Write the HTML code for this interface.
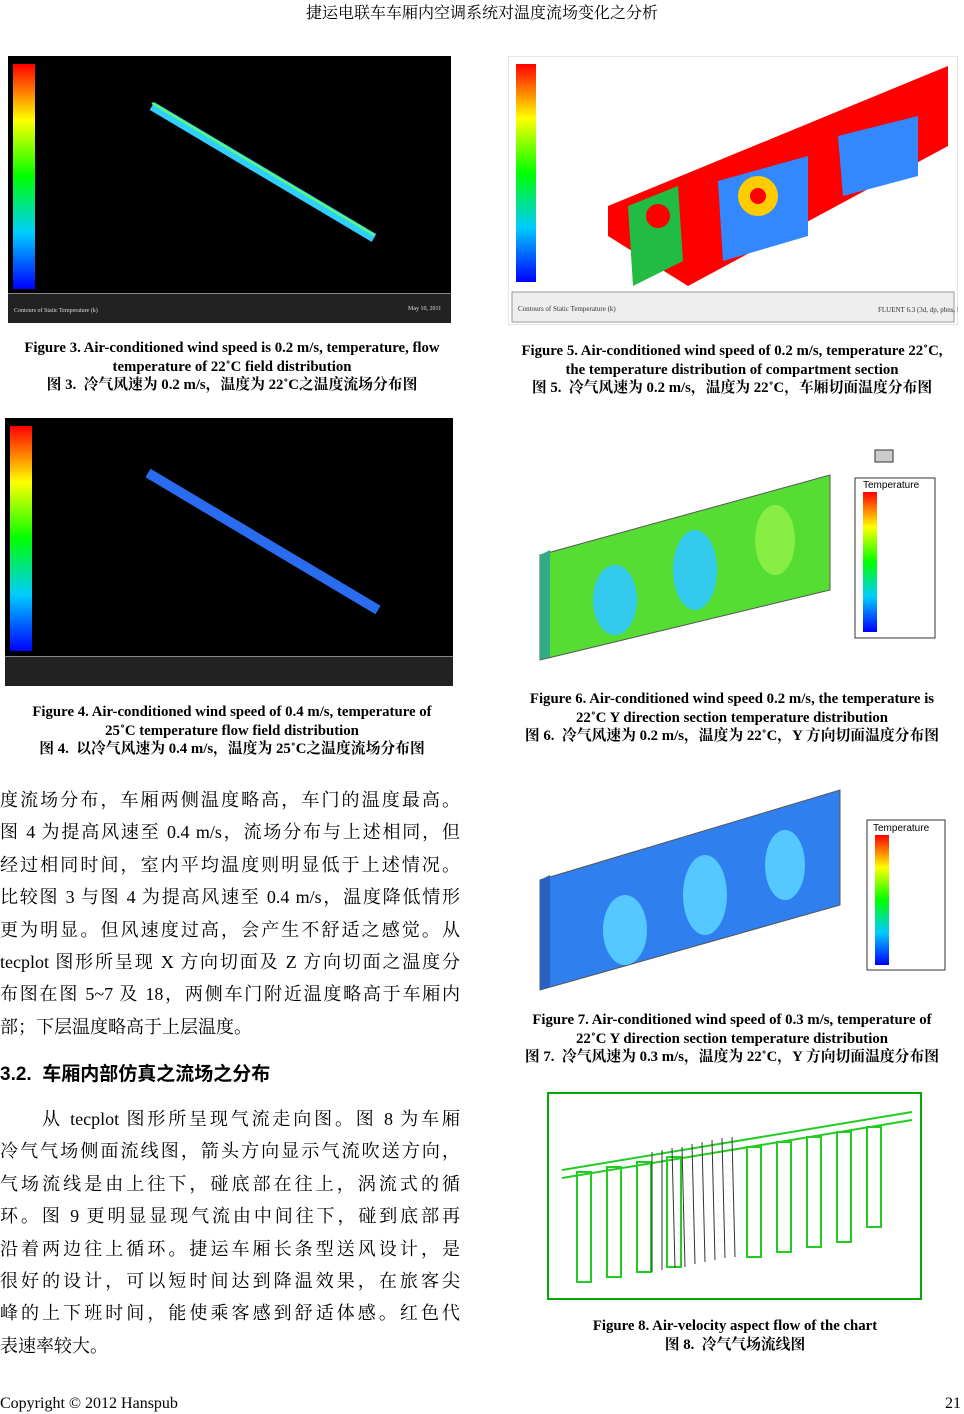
<!DOCTYPE html>
<html><head><meta charset="utf-8"><style>
body{margin:0;width:964px;height:1414px;background:#fff;position:relative;overflow:hidden;font-family:"Liberation Serif","Noto Serif CJK SC",serif;color:#000}
.a{position:absolute;white-space:nowrap}
.cap{position:absolute;text-align:center;font-weight:bold;font-size:14.8px;line-height:18.5px}
.body{position:absolute;left:0;width:460px;font-size:18px;line-height:32.4px}
.body div{text-align:justify;text-align-last:justify;height:32.4px;white-space:nowrap}
.body div.l{text-align-last:left}
</style></head><body>
<div class="a" style="left:0;width:964px;text-align:center;top:0;font-size:16px">捷运电联车车厢内空调系统对温度流场变化之分析</div>

<svg class="a" style="left:8px;top:56px" width="443" height="267">
<defs><linearGradient id="cb" x1="0" y1="1" x2="0" y2="0"><stop offset="0" stop-color="#0000ff"/><stop offset=".25" stop-color="#00ccff"/><stop offset=".5" stop-color="#00ff00"/><stop offset=".75" stop-color="#ffff00"/><stop offset="1" stop-color="#ff0000"/></linearGradient></defs>
<rect width="443" height="267" fill="#000"/>
<rect x="5" y="8" width="22" height="225" fill="url(#cb)"/>
<line x1="144" y1="50" x2="366" y2="182" stroke="#2fd0ff" stroke-width="9"/>
<line x1="144" y1="47" x2="366" y2="179" stroke="#60ff60" stroke-width="2"/>
<rect x="0" y="237" width="443" height="30" fill="#222"/><rect x="0" y="237" width="443" height="1" fill="#888"/>
<text x="6" y="256" fill="#ddd" font-size="6">Contours of Static Temperature (k)</text>
<text x="400" y="254" fill="#ddd" font-size="6">May 10, 2011</text>
</svg>
<div class="cap" style="left:0;width:464px;top:339px">Figure 3. Air-conditioned wind speed is 0.2 m/s, temperature, flow<br>temperature of 22˚C field distribution<br>图 3.&nbsp; 冷气风速为 0.2 m/s，温度为 22˚C之温度流场分布图</div>

<svg class="a" style="left:5px;top:418px" width="448" height="268">
<rect width="448" height="268" fill="#000"/>
<rect x="5" y="8" width="22" height="225" fill="url(#cb)"/>
<line x1="143" y1="55" x2="373" y2="192" stroke="#2a6cf0" stroke-width="10"/>
<rect x="0" y="238" width="448" height="30" fill="#222"/><rect x="0" y="238" width="448" height="1" fill="#888"/>
</svg>
<div class="cap" style="left:0;width:464px;top:703px">Figure 4. Air-conditioned wind speed of 0.4 m/s, temperature of<br>25˚C temperature flow field distribution<br>图 4.&nbsp; 以冷气风速为 0.4 m/s，温度为 25˚C之温度流场分布图</div>

<div class="body" style="top:784px">
<div>度流场分布，车厢两侧温度略高，车门的温度最高。</div>
<div>图 4 为提高风速至 0.4 m/s，流场分布与上述相同，但</div>
<div>经过相同时间，室内平均温度则明显低于上述情况。</div>
<div>比较图 3 与图 4 为提高风速至 0.4 m/s，温度降低情形</div>
<div>更为明显。但风速度过高，会产生不舒适之感觉。从</div>
<div>tecplot 图形所呈现 X 方向切面及 Z 方向切面之温度分</div>
<div>布图在图 5~7 及 18，两侧车门附近温度略高于车厢内</div>
<div class="l">部；下层温度略高于上层温度。</div>
</div>
<div class="a" style="left:0;top:1059px;font-size:19px;font-weight:bold;font-family:'Liberation Sans','Noto Sans CJK SC',sans-serif">3.2.&nbsp; 车厢内部仿真之流场之分布</div>
<div class="body" style="top:1103px">
<div style="padding-left:42px">从 tecplot 图形所呈现气流走向图。图 8 为车厢</div>
<div>冷气气场侧面流线图，箭头方向显示气流吹送方向，</div>
<div>气场流线是由上往下，碰底部在往上，涡流式的循</div>
<div>环。图 9 更明显显现气流由中间往下，碰到底部再</div>
<div>沿着两边往上循环。捷运车厢长条型送风设计，是</div>
<div>很好的设计，可以短时间达到降温效果，在旅客尖</div>
<div>峰的上下班时间，能使乘客感到舒适体感。红色代</div>
<div class="l">表速率较大。</div>
</div>

<svg class="a" style="left:508px;top:56px" width="450" height="269">
<rect width="450" height="269" fill="#fff" stroke="#ccc"/>
<rect x="8" y="8" width="20" height="218" fill="url(#cb)"/>
<polygon points="100,180 100,150 440,10 440,90 180,230" fill="#ff0000"/>
<polygon points="120,150 170,130 175,205 125,230" fill="#22bb44"/>
<polygon points="210,125 300,100 300,180 215,205" fill="#3388ff"/>
<polygon points="330,80 410,60 410,120 335,140" fill="#3388ff"/>
<circle cx="250" cy="140" r="20" fill="#ffcc00"/><circle cx="250" cy="140" r="8" fill="#ff0000"/>
<circle cx="150" cy="160" r="12" fill="#ff0000"/>
<rect x="4" y="236" width="442" height="30" fill="#eee" stroke="#999"/>
<text x="10" y="255" font-size="7" fill="#333">Contours of Static Temperature (k)</text>
<text x="370" y="256" font-size="7" fill="#333">FLUENT 6.3 (3d, dp, pbns, lam)</text>
</svg>
<div class="cap" style="left:500px;width:464px;top:342px">Figure 5. Air-conditioned wind speed of 0.2 m/s, temperature 22˚C,<br>the temperature distribution of compartment section<br>图 5.&nbsp; 冷气风速为 0.2 m/s，温度为 22˚C，车厢切面温度分布图</div>

<svg class="a" style="left:535px;top:420px" width="420" height="250">
<polygon points="5,135 295,55 295,170 5,240" fill="#55dd33" stroke="#555"/>
<polygon points="5,135 15,130 15,237 5,240" fill="#33aa88"/>
<ellipse cx="80" cy="180" rx="22" ry="35" fill="#33ccee"/><ellipse cx="160" cy="150" rx="22" ry="40" fill="#33ccee"/><ellipse cx="240" cy="120" rx="20" ry="35" fill="#88ee44"/>
<rect x="320" y="58" width="80" height="160" fill="#fff" stroke="#333"/>
<text x="328" y="68" font-size="10" font-family="Liberation Sans">Temperature</text>
<rect x="328" y="72" width="14" height="140" fill="url(#cb)"/>
<rect x="340" y="30" width="18" height="12" fill="#ccc" stroke="#333"/>
</svg>
<div class="cap" style="left:500px;width:464px;top:690px">Figure 6. Air-conditioned wind speed 0.2 m/s, the temperature is<br>22˚C Y direction section temperature distribution<br>图 6.&nbsp; 冷气风速为 0.2 m/s，温度为 22˚C，Y 方向切面温度分布图</div>

<svg class="a" style="left:535px;top:765px" width="420" height="230">
<polygon points="5,115 305,25 305,140 5,225" fill="#2f7fef" stroke="#555"/>
<polygon points="5,115 15,110 15,222 5,225" fill="#2a60c0"/>
<ellipse cx="90" cy="165" rx="22" ry="35" fill="#55c8ff"/><ellipse cx="170" cy="130" rx="22" ry="40" fill="#55c8ff"/><ellipse cx="250" cy="100" rx="20" ry="35" fill="#55c8ff"/>
<rect x="332" y="55" width="78" height="150" fill="#fff" stroke="#333"/>
<text x="338" y="66" font-size="10" font-family="Liberation Sans">Temperature</text>
<rect x="340" y="70" width="14" height="130" fill="url(#cb)"/>
</svg>
<div class="cap" style="left:500px;width:464px;top:1011px">Figure 7. Air-conditioned wind speed of 0.3 m/s, temperature of<br>22˚C Y direction section temperature distribution<br>图 7.&nbsp; 冷气风速为 0.3 m/s，温度为 22˚C，Y 方向切面温度分布图</div>

<svg class="a" style="left:547px;top:1092px" width="375" height="208">
<rect x="1" y="1" width="373" height="206" fill="#fff" stroke="#00aa00" stroke-width="2"/>
<g stroke="#22cc22" fill="none" stroke-width="2">
<line x1="15" y1="78" x2="365" y2="20"/><line x1="15" y1="86" x2="365" y2="28"/>
<rect x="30" y="80" width="14" height="110"/><rect x="60" y="75" width="14" height="110"/><rect x="90" y="70" width="14" height="110"/><rect x="120" y="65" width="14" height="110"/><rect x="200" y="55" width="14" height="110"/><rect x="230" y="50" width="14" height="110"/><rect x="260" y="45" width="14" height="110"/><rect x="290" y="40" width="14" height="110"/><rect x="320" y="35" width="14" height="100"/></g>
<g stroke="#333" fill="none" stroke-width="1"><path d="M105,60 L105,180 M115,58 L115,178 M125,56 L128,176 M135,55 L138,175 M145,52 L148,172 M155,50 L158,170 M165,48 L168,168 M175,46 L178,166 M185,45 L188,165"/></g>
</svg>
<div class="cap" style="left:500px;width:470px;top:1317px">Figure 8. Air-velocity aspect flow of the chart<br>图 8.&nbsp; 冷气气场流线图</div>

<div class="a" style="left:0;top:1395px;font-size:16px">Copyright © 2012 Hanspub</div>
<div class="a" style="right:3px;top:1395px;font-size:16px">21</div>
</body></html>
